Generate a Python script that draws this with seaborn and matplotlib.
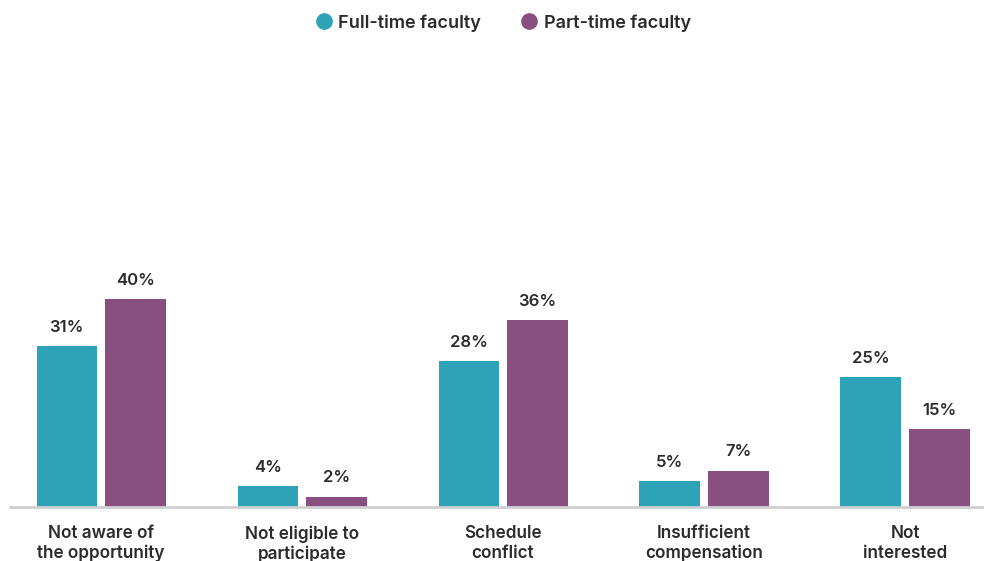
import matplotlib
matplotlib.use("Agg")
import matplotlib.pyplot as plt
from matplotlib.lines import Line2D
import seaborn as sns
import pandas as pd

categories = ["Not aware of\nthe opportunity", "Not eligible to\nparticipate", "Schedule\nconflict",
              "Insufficient\ncompensation", "Not\ninterested"]
full_time = [31, 4, 28, 5, 25]
part_time = [40, 2, 36, 7, 15]
series = ["Full-time faculty", "Part-time faculty"]
colors = ["#2EA3B7", "#884F80"]

df = pd.DataFrame({
    "category": categories * 2,
    "value": full_time + part_time,
    "series": [series[0]] * len(categories) + [series[1]] * len(categories),
})

sns.set_theme(style="white")
plt.rcParams["font.family"] = ["Inter", "DejaVu Sans"]
text_color = "#2b2b2b"

fig = plt.figure(figsize=(9.84, 5.61), dpi=100)
ax = fig.add_axes([10 / 984, 54 / 561, 974 / 984, 467 / 561])

sns.barplot(data=df, x="category", y="value", hue="series", palette=colors,
            width=0.682, gap=0.117, ax=ax, legend=False, saturation=1, linewidth=0)

for cont in ax.containers:
    labels = [f"{v:.0f}%" for v in cont.datavalues]
    ax.bar_label(cont, labels=labels, padding=8, fontsize=12, fontweight="semibold", color=text_color)

ax.set_ylim(0, 89.8)
ax.set_xlim(-0.453, 4.393)
ax.set_xlabel("")
ax.set_ylabel("")
ax.set_yticks([])
for s in ["top", "right", "left"]:
    ax.spines[s].set_visible(False)
ax.spines["bottom"].set_color("#cfcfd2")
ax.spines["bottom"].set_linewidth(2)
ax.tick_params(axis="x", length=0, pad=13)
for lbl in ax.get_xticklabels():
    lbl.set_fontsize(12.3)
    lbl.set_fontweight("semibold")
    lbl.set_color(text_color)
    lbl.set_linespacing(1.2)

handles = [Line2D([0], [0], marker="o", color="none", markerfacecolor=c, markeredgecolor=c,
                  markersize=11) for c in colors]
fig.legend(handles, series, loc="center", bbox_to_anchor=(0.511, 1 - 23 / 561), ncol=2,
           frameon=False, handletextpad=0.3, columnspacing=2.15, handlelength=1,
           prop={"size": 13, "weight": "semibold"}, labelcolor=text_color)

fig.savefig("out.png", dpi=100)
